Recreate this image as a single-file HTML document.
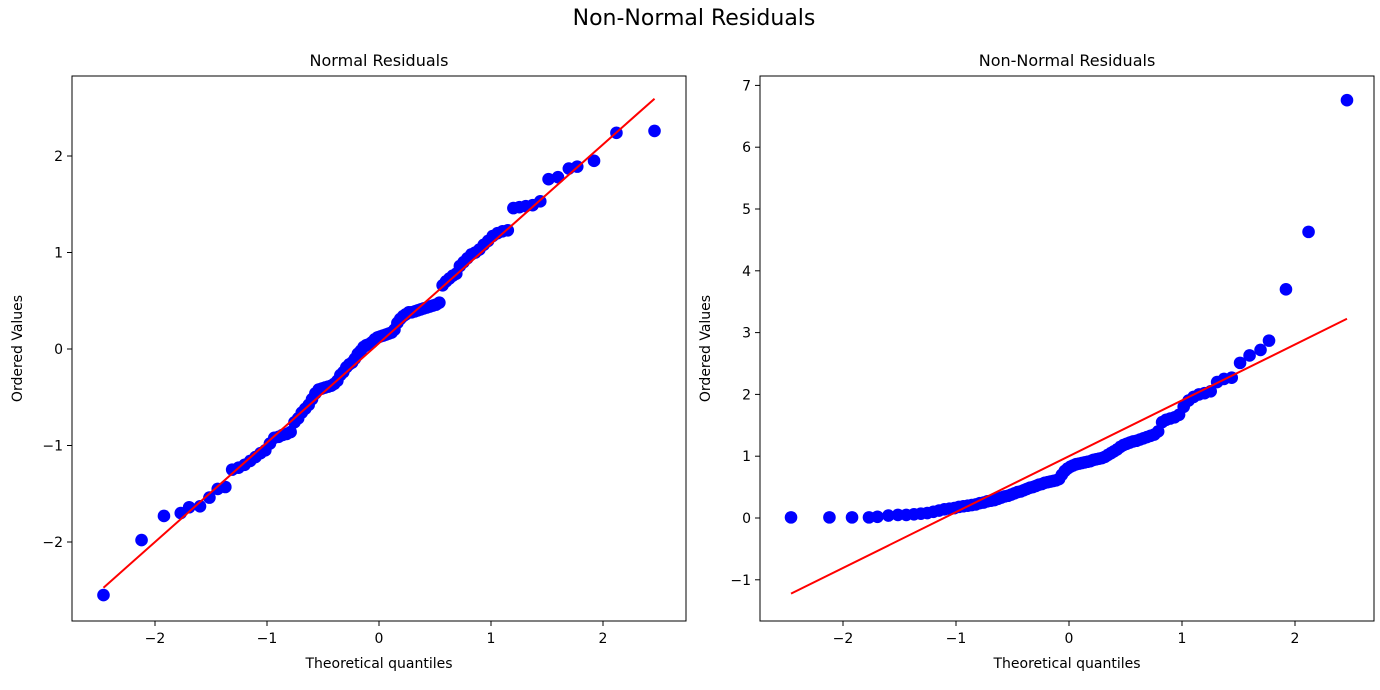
<!DOCTYPE html>
<html><head><meta charset="utf-8"><style>
body{margin:0;background:#fff;font-family:"Liberation Sans","DejaVu Sans",sans-serif}
svg text{font-family:"DejaVu Sans","Liberation Sans",sans-serif;fill:#000}
</style></head><body>
<svg id="c" width="1380" height="685" xmlns="http://www.w3.org/2000/svg">
<text x="694" y="25" font-size="22" text-anchor="middle">Non-Normal Residuals</text>
</svg>
<script>
const quantiles=[-2.46,-2.12,-1.92,-1.77,-1.695,-1.598,-1.514,-1.44,-1.372,-1.311,-1.254,-1.2,-1.15,-1.103,-1.058,-1.015,-0.974,-0.935,-0.896,-0.86,-0.824,-0.789,-0.755,-0.722,-0.69,-0.659,-0.628,-0.598,-0.568,-0.539,-0.51,-0.482,-0.454,-0.426,-0.399,-0.372,-0.345,-0.319,-0.292,-0.266,-0.24,-0.215,-0.189,-0.164,-0.138,-0.113,-0.088,-0.063,-0.038,-0.013,0.013,0.038,0.063,0.088,0.113,0.138,0.164,0.189,0.215,0.24,0.266,0.292,0.319,0.345,0.372,0.399,0.426,0.454,0.482,0.51,0.539,0.568,0.598,0.628,0.659,0.69,0.722,0.755,0.789,0.824,0.86,0.896,0.935,0.974,1.015,1.058,1.103,1.15,1.2,1.254,1.311,1.372,1.44,1.514,1.598,1.695,1.77,1.92,2.12,2.46];
const normalValues=[-2.55,-1.98,-1.73,-1.70,-1.64,-1.63,-1.54,-1.45,-1.43,-1.25,-1.23,-1.20,-1.16,-1.12,-1.08,-1.05,-0.98,-0.92,-0.91,-0.89,-0.88,-0.86,-0.76,-0.72,-0.66,-0.62,-0.58,-0.52,-0.46,-0.42,-0.41,-0.40,-0.39,-0.38,-0.36,-0.33,-0.27,-0.24,-0.19,-0.16,-0.14,-0.10,-0.05,-0.02,0.02,0.04,0.05,0.07,0.10,0.12,0.13,0.14,0.15,0.16,0.17,0.20,0.27,0.31,0.34,0.36,0.38,0.38,0.39,0.40,0.41,0.42,0.43,0.44,0.45,0.46,0.48,0.66,0.70,0.73,0.76,0.78,0.86,0.90,0.94,0.98,1.00,1.03,1.08,1.12,1.17,1.20,1.22,1.23,1.46,1.47,1.48,1.49,1.53,1.76,1.78,1.87,1.89,1.95,2.24,2.26].sort((a,b)=>a-b);
const skewValues=[0.01,0.01,0.01,0.01,0.02,0.04,0.05,0.05,0.06,0.07,0.08,0.10,0.12,0.14,0.15,0.16,0.18,0.19,0.20,0.21,0.22,0.24,0.25,0.27,0.28,0.29,0.31,0.33,0.35,0.36,0.38,0.40,0.42,0.43,0.45,0.47,0.49,0.50,0.52,0.54,0.55,0.57,0.58,0.59,0.60,0.61,0.63,0.70,0.76,0.80,0.83,0.85,0.87,0.88,0.89,0.90,0.91,0.92,0.94,0.95,0.96,0.97,0.99,1.02,1.05,1.08,1.11,1.15,1.18,1.20,1.22,1.24,1.25,1.27,1.29,1.31,1.33,1.35,1.40,1.55,1.59,1.61,1.63,1.67,1.80,1.90,1.96,2.00,2.02,2.05,2.20,2.25,2.27,2.51,2.63,2.72,2.87,3.70,4.63,6.76];
const normalFit=[1.03,0.06];
const skewFit=[0.904,1.0];
const xTicks=[-2,-1,0,1,2];
const normalYTicks=[-2,-1,0,1,2];
const skewYTicks=[-1,0,1,2,3,4,5,6,7];
const NS="http://www.w3.org/2000/svg";
const svg=document.getElementById('c');
function mk(t,a,p){const e=document.createElementNS(NS,t);for(const k in a)e.setAttribute(k,a[k]);(p||svg).appendChild(e);return e;}
function panel(name,L,R,T,B,x0,xs,y0,ys,ticksY,vals,fit,title){
  const g=mk('g',{});
  
  
  const sx=v=>x0+xs*v, sy=v=>y0-ys*v;
  const line=mk('line',{x1:sx(quantiles[0]),y1:sy(fit[1]+fit[0]*quantiles[0]),x2:sx(quantiles[quantiles.length-1]),y2:sy(fit[1]+fit[0]*quantiles[quantiles.length-1]),stroke:'#ff0000','stroke-width':2},g);
  quantiles.forEach((q,i)=>{
    const c=mk('circle',{cx:sx(q),cy:sy(vals[i]),r:6.3,fill:'#0000ff'},g);
    
    
  });
  g.appendChild(line);
  
  
  const fr=mk('rect',{x:L,y:T,width:R-L,height:B-T,fill:'none',stroke:'#000','stroke-width':1},g);
  
  
  xTicks.forEach(t=>{
    mk('line',{x1:sx(t),x2:sx(t),y1:B,y2:B+5,stroke:'#000'},g);
    const tx=mk('text',{x:sx(t),y:B+22,'font-size':14,'text-anchor':'middle'},g);
    tx.textContent=(t<0?'\u2212'+(-t):t);
    
    
  });
  ticksY.forEach(t=>{
    mk('line',{x1:L-5,x2:L,y1:sy(t),y2:sy(t),stroke:'#000'},g);
    const tx=mk('text',{x:L-9,y:sy(t)+5,'font-size':14,'text-anchor':'end'},g);
    tx.textContent=(t<0?'\u2212'+(-t):t);
    
    
  });
  const ti=mk('text',{x:(L+R)/2,y:66,'font-size':16,'text-anchor':'middle'},g);
  ti.textContent=title;
  
  
  const xl=mk('text',{x:(L+R)/2,y:668,'font-size':14,'text-anchor':'middle'},g);
  xl.textContent='Theoretical quantiles';
  
  
  const yx=L-50, yy=(T+B)/2;
  const yl=mk('text',{x:yx,y:yy,'font-size':14,'text-anchor':'middle',transform:`rotate(-90 ${yx} ${yy})`},g);
  yl.textContent='Ordered Values';
  
  
}
panel('normal-residuals-plot',72,686,76,621,379,112,349,96.5,normalYTicks,normalValues,normalFit,'Normal Residuals');
panel('non-normal-residuals-plot',760,1374,76,621,1069,113,518,61.8,skewYTicks,skewValues,skewFit,'Non-Normal Residuals');
</script>
</body></html>
